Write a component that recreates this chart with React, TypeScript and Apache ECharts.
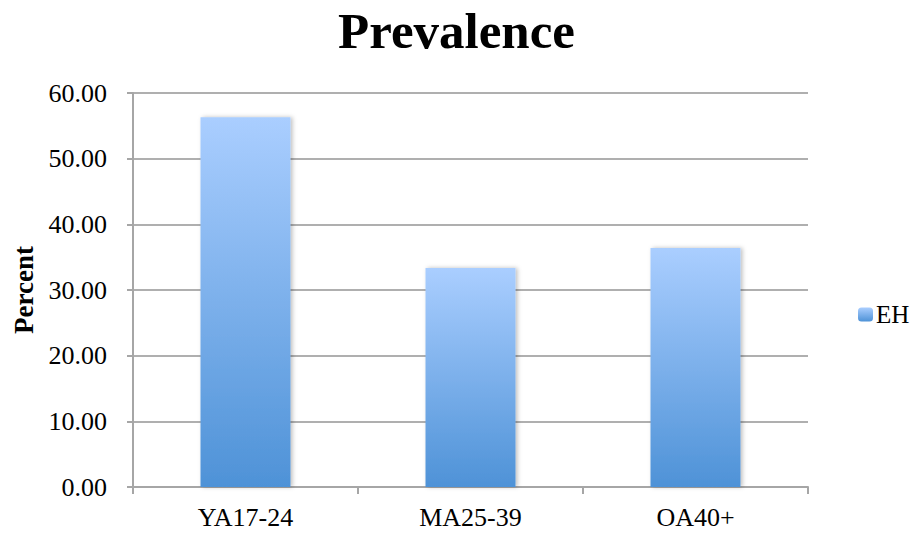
import React, { useEffect, useRef } from "react";
import * as echarts from "echarts";

const categories = ["YA17-24", "MA25-39", "OA40+"];
const seriesName = "EH";
const values = [56.3, 33.35, 36.4];
const yTicks = { min: 0, max: 60, interval: 10 };

const FONT = "'Liberation Serif', 'DejaVu Serif', serif";

export default function App() {
  const ref = useRef<HTMLDivElement>(null);
  useEffect(() => {
    if (!ref.current) return;
    const chart = echarts.init(ref.current, null, { renderer: "svg" });
    const grad = new echarts.graphic.LinearGradient(0, 0, 0, 1, [
      { offset: 0, color: "#AACEFF" },
      { offset: 1, color: "#4E92D7" },
    ]);
    chart.setOption({
      animation: false,
      backgroundColor: "#ffffff",
      title: {
        text: "Prevalence",
        left: "center",
        top: 0,
        textStyle: { fontFamily: FONT, fontSize: 51, fontWeight: "bold", color: "#000" },
      },
      legend: {
        data: [seriesName],
        left: 853,
        top: 297,
        orient: "vertical",
        itemWidth: 15,
        itemHeight: 14,
        itemGap: 4,
        textStyle: { fontFamily: FONT, fontSize: 25, color: "#000", padding: [0, 0, 0, -2] },
      },
      grid: { left: 133, right: 105, top: 93, bottom: 46, containLabel: false },
      xAxis: {
        type: "category",
        data: categories,
        boundaryGap: true,
        axisLine: { show: true, lineStyle: { color: "#a6a6a6", width: 2 } },
        axisTick: { show: true, length: 7, inside: false, lineStyle: { color: "#a6a6a6", width: 2 } },
        axisLabel: { fontFamily: FONT, fontSize: 26, color: "#000", margin: 17 },
      },
      yAxis: {
        type: "value",
        min: yTicks.min,
        max: yTicks.max,
        interval: yTicks.interval,
        name: "Percent",
        nameLocation: "middle",
        nameGap: 96,
        nameTextStyle: { fontFamily: FONT, fontSize: 27, fontWeight: "bold", color: "#000" },
        axisLine: { show: true, lineStyle: { color: "#a6a6a6", width: 2 } },
        axisTick: { show: true, length: 6, inside: false, lineStyle: { color: "#a6a6a6", width: 2 } },
        splitLine: { show: true, lineStyle: { color: "#959595", width: 1.5 } },
        axisLabel: {
          fontFamily: FONT,
          fontSize: 26,
          color: "#000",
          margin: 26,
          formatter: (v: number) => v.toFixed(2),
        },
      },
      series: [
        {
          name: seriesName,
          type: "bar",
          data: values,
          barWidth: "40%",
          itemStyle: {
            color: grad,
            shadowBlur: 4,
            shadowColor: "rgba(0,0,0,0.25)",
            shadowOffsetX: 2,
            shadowOffsetY: 0,
          },
        },
      ],
    });
    return () => chart.dispose();
  }, []);
  return (
    <div
      ref={ref}
      style={{ position: "fixed", left: 0, top: 0, width: 913, height: 533 }}
    />
  );
}
